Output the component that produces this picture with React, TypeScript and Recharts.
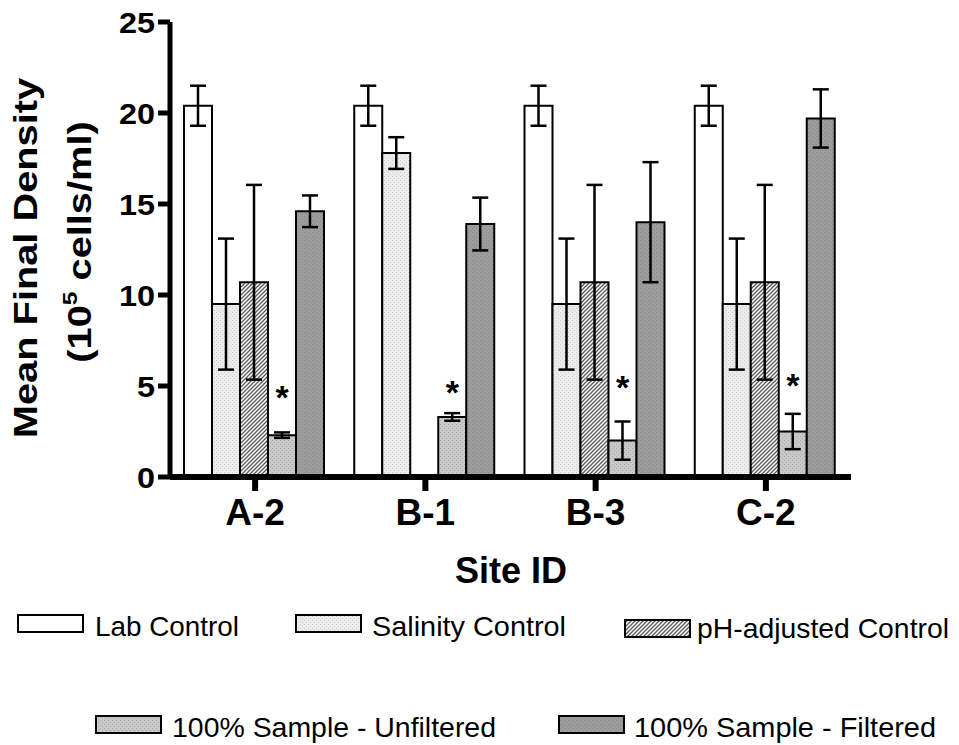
import React from 'react';
import { BarChart, Bar, XAxis, YAxis, ErrorBar, LabelList } from 'recharts';

const sites = ['A-2', 'B-1', 'B-3', 'C-2'];
const labControl = [20.4, 20.4, 20.4, 20.4];
const labControlErr = [1.1, 1.1, 1.1, 1.1];
const salinity = [9.5, 17.8, 9.5, 9.5];
const salinityErr = [3.6, 0.87, 3.6, 3.6];
const phAdjusted = [10.7, null, 10.7, 10.7];
const phAdjustedErr = [5.35, null, 5.35, 5.35];
const unfiltered = [2.3, 3.3, 2.0, 2.5];
const unfilteredErr = [0.15, 0.21, 1.05, 0.97];
const filtered = [14.6, 13.9, 14.0, 19.7];
const filteredErr = [0.87, 1.45, 3.3, 1.6];
const starLevel = [4.8, 5.05, 5.35, 5.45];
const yTicks = [0, 5, 10, 15, 20, 25];

const seriesNames = [
  'Lab Control',
  'Salinity Control',
  'pH-adjusted Control',
  '100% Sample - Unfiltered',
  '100% Sample - Filtered',
];

const data = sites.map((site, i) => ({
  site,
  lab: labControl[i],
  labErr: labControlErr[i],
  sal: salinity[i],
  salErr: salinityErr[i],
  ph: phAdjusted[i],
  phErr: phAdjustedErr[i],
  unf: unfiltered[i],
  unfErr: unfilteredErr[i],
  fil: filtered[i],
  filErr: filteredErr[i],
}));

const FONT = 'Liberation Sans, Arial, Helvetica, sans-serif';

const YTick = (props: any) => {
  const { x, y, payload } = props;
  return (
    <g transform={`translate(${x},${y}) scale(1.08,1)`}>
      <text x={0} y={0} dy="0.36em" textAnchor="end" fontFamily={FONT} fontWeight="bold" fontSize={30} fill="#000">
        {payload.value}
      </text>
    </g>
  );
};

const XTick = (props: any) => {
  const { x, payload } = props;
  return (
    <text x={x} y={525} textAnchor="middle" fontFamily={FONT} fontWeight="bold" fontSize={37} fill="#000">
      {payload.value}
    </text>
  );
};

const Star = (props: any) => {
  const { x, y, width, height, value, index } = props;
  if (value == null || !height) return null;
  const pxPerUnit = height / value;
  const cy = y + height - starLevel[index] * pxPerUnit;
  return (
    <text x={x + width / 2} y={cy + 19} textAnchor="middle" fontFamily={FONT} fontWeight="bold" fontSize={34} fill="#000">
      *
    </text>
  );
};

const legendItems = [
  { name: seriesNames[0], fill: '#ffffff', sx: 18, sy: 615, tx: 95, ty: 636, tl: 144 },
  { name: seriesNames[1], fill: 'url(#patSal)', sx: 296, sy: 615, tx: 372, ty: 636, tl: 194 },
  { name: seriesNames[2], fill: 'url(#patPh)', sx: 625, sy: 620, tx: 697, ty: 638, tl: 252 },
  { name: seriesNames[3], fill: 'url(#patUnf)', sx: 96, sy: 716, tx: 172, ty: 737, tl: 324 },
  { name: seriesNames[4], fill: 'url(#patFil)', sx: 559, sy: 716, tx: 634, ty: 737, tl: 302 },
];

const errProps = { width: 8, strokeWidth: 2.5, stroke: '#000' };

export default function App() {
  return (
    <div style={{ position: 'absolute', left: 0, top: 0, width: 959, height: 745, background: '#fff' }}>
      <div style={{ position: 'absolute', left: 0, top: 0 }}>
        <BarChart
          width={959}
          height={745}
          data={data}
          margin={{ top: 22, right: 108, left: 80, bottom: 208 }}
          barCategoryGap={14}
          barGap={0}
        >
          <defs>
            <pattern id="patSal" width="4" height="4" patternUnits="userSpaceOnUse">
              <rect width="4" height="4" fill="#ececec" />
              <rect x="0" y="0" width="1" height="1" fill="#cfcfcf" />
              <rect x="2" y="2" width="1" height="1" fill="#cfcfcf" />
            </pattern>
            <pattern id="patPh" width="4" height="4" patternUnits="userSpaceOnUse">
              <rect width="4" height="4" fill="#ffffff" />
              <path d="M-1,1 l2,-2 M0,4 l4,-4 M3,5 l2,-2" stroke="#5a5a5a" strokeWidth="1.3" />
            </pattern>
            <pattern id="patUnf" width="4" height="4" patternUnits="userSpaceOnUse">
              <rect width="4" height="4" fill="#c9c9c9" />
              <rect x="0" y="0" width="1" height="1" fill="#a9a9a9" />
              <rect x="2" y="2" width="1" height="1" fill="#a9a9a9" />
            </pattern>
            <pattern id="patFil" width="4" height="4" patternUnits="userSpaceOnUse">
              <rect width="4" height="4" fill="#9d9d9d" />
              <rect x="0" y="0" width="1" height="1" fill="#858585" />
              <rect x="2" y="2" width="1" height="1" fill="#858585" />
            </pattern>
          </defs>
          <XAxis
            dataKey="site"
            height={60}
            axisLine={{ stroke: '#000', strokeWidth: 6 }}
            tickLine={{ stroke: '#000', strokeWidth: 6 }}
            tickSize={14}
            tick={<XTick />}
            interval={0}
          />
          <YAxis
            width={90}
            domain={[0, 25]}
            ticks={yTicks}
            allowDataOverflow
            axisLine={{ stroke: '#000', strokeWidth: 5 }}
            tickLine={{ stroke: '#000', strokeWidth: 5 }}
            tickSize={12}
            tickMargin={3}
            tick={<YTick />}
          />
          <Bar dataKey="lab" name={seriesNames[0]} fill="#ffffff" stroke="#000" strokeWidth={2} isAnimationActive={false}>
            <ErrorBar dataKey="labErr" {...errProps} />
          </Bar>
          <Bar dataKey="sal" name={seriesNames[1]} fill="url(#patSal)" stroke="#000" strokeWidth={2} isAnimationActive={false}>
            <ErrorBar dataKey="salErr" {...errProps} />
          </Bar>
          <Bar dataKey="ph" name={seriesNames[2]} fill="url(#patPh)" stroke="#000" strokeWidth={2} isAnimationActive={false}>
            <ErrorBar dataKey="phErr" {...errProps} />
          </Bar>
          <Bar dataKey="unf" name={seriesNames[3]} fill="url(#patUnf)" stroke="#000" strokeWidth={2} isAnimationActive={false}>
            <ErrorBar dataKey="unfErr" {...errProps} />
            <LabelList dataKey="unf" content={<Star />} />
          </Bar>
          <Bar dataKey="fil" name={seriesNames[4]} fill="url(#patFil)" stroke="#000" strokeWidth={2} isAnimationActive={false}>
            <ErrorBar dataKey="filErr" {...errProps} />
          </Bar>
        </BarChart>
      </div>
      <svg
        width={959}
        height={745}
        style={{ position: 'absolute', left: 0, top: 0, pointerEvents: 'none' }}
      >
        <g transform="translate(37,258) rotate(-90) scale(1.17,1)">
          <text x={0} y={0} textAnchor="middle" fontFamily={FONT} fontWeight="bold" fontSize={34} fill="#000">
            Mean Final Density
          </text>
        </g>
        <g transform="translate(91,242) rotate(-90) scale(1.17,1)">
          <text x={0} y={0} textAnchor="middle" fontFamily={FONT} fontWeight="bold" fontSize={34} fill="#000">
            (10
            <tspan fontSize={21} dy={-14}>5</tspan>
            <tspan dy={14}> cells/ml)</tspan>
          </text>
        </g>
        <text x={511} y={583} textAnchor="middle" fontFamily={FONT} fontWeight="bold" fontSize={36} fill="#000">
          Site ID
        </text>
        {legendItems.map((it) => (
          <g key={it.name}>
            <rect x={it.sx} y={it.sy} width={65} height={17} fill={it.fill} stroke="#000" strokeWidth={2} />
            <text
              x={it.tx}
              y={it.ty}
              fontFamily={FONT}
              fontSize={28}
              fill="#000"
              textLength={it.tl}
              lengthAdjust="spacingAndGlyphs"
            >
              {it.name}
            </text>
          </g>
        ))}
      </svg>
    </div>
  );
}
